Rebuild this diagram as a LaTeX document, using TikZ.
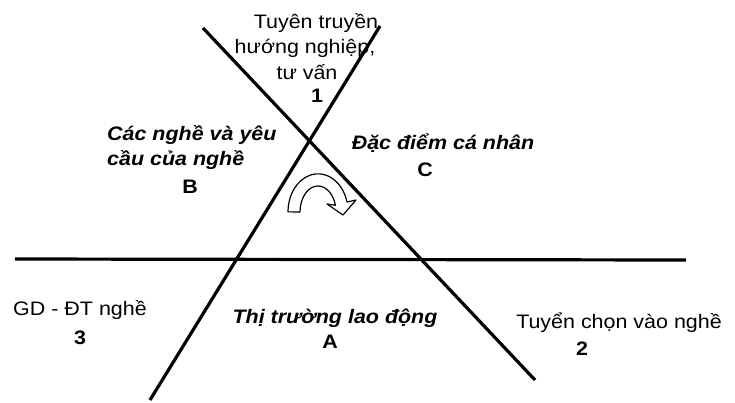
\documentclass[tikz,border=0pt]{standalone}
\usepackage{fontspec}
\setmainfont{Liberation Sans}[FakeStretch=1.1]
\begin{document}
\begin{tikzpicture}[x=1pt,y=-1pt,
  mainline/.style={line width=3.2pt},
  lbl/.style={inner sep=0pt,anchor=base,font=\fontsize{19.5}{23}\selectfont},
  lblbi/.style={lbl,font=\fontsize{19.5}{23}\selectfont\bfseries\itshape},
  lblb/.style={lbl,font=\fontsize{19.5}{23}\selectfont\bfseries},
  turnarrow/.style={draw=black,fill=white,line width=1.2pt,line join=round}]
\useasboundingbox (0,0) rectangle (735,402);
% line end points
\coordinate (l1s) at (203,28);
\coordinate (l1e) at (535,380);
\coordinate (l2s) at (380,26);
\coordinate (l2e) at (150,400);
\coordinate (hs) at (15,259);
\coordinate (he) at (686,260);
\draw[mainline] (l1s) -- (l1e);
\draw[mainline] (l2s) -- (l2e);
\draw[mainline] (hs) -- (he);
% curved turning arrow
\path[turnarrow] (300,212)
  arc[start angle=180,end angle=345,x radius=18,y radius=26]
  -- (327,204) -- (343,215) -- (356,200) -- (347,202)
  arc[start angle=345,end angle=180,x radius=30,y radius=38]
  -- cycle;
% texts
\node[lbl] (t1a) at (316,28) {Tuyên truyền};
\node[lbl] (t1b) at (305,53) {hướng nghiệp,};
\node[lbl] (t1c) at (307,79) {tư vấn};
\node[lblb] (t1d) at (317,102) {1};
\node[lblbi,anchor=base west] (b1) at (107,140) {Các nghề và yêu};
\node[lblbi,anchor=base west] (b2) at (107,165) {cầu của nghề};
\node[lblb] (b3) at (190,193) {B};
\node[lblbi] (c1) at (443,149) {Đặc điểm cá nhân};
\node[lblb] (c2) at (425,176) {C};
\node[lbl] (g1) at (80,315) {GD - ĐT nghề};
\node[lblb] (g2) at (80,344) {3};
\node[lblbi] (a1) at (335,323) {Thị trường lao động};
\node[lblb] (a2) at (330,348) {A};
\node[lbl] (s1) at (619,328) {Tuyển chọn vào nghề};
\node[lblb] (s2) at (582,355) {2};
\end{tikzpicture}
\end{document}
